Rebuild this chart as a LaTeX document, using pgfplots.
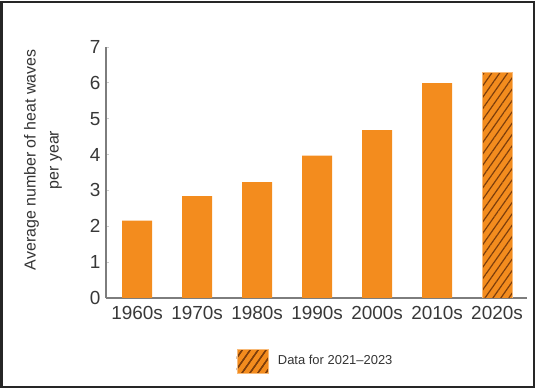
\documentclass[border=0pt]{standalone}
\usepackage{pgfplots}
\pgfplotsset{compat=1.18}
\usepackage{fontspec}
\setmainfont{Liberation Sans}
\usetikzlibrary{patterns.meta}
\definecolor{barorange}{RGB}{243,140,30}
\definecolor{hatchc}{RGB}{125,62,12}
\definecolor{axgray}{RGB}{125,125,125}
\begin{document}
\begin{tikzpicture}
\useasboundingbox (0bp,0bp) rectangle (540bp,390bp);
\draw[line width=2bp, black!85] (1.5bp,3bp) rectangle (534bp,387.5bp);
\begin{axis}[
  at={(106bp,92bp)}, anchor=south west,
  scale only axis, width=421bp, height=251bp,
  xmin=-0.52, xmax=6.5, ymin=0, ymax=7,
  axis lines=left,
  axis line style={axgray, line width=1.3bp, -},
  xtick={0,...,6},
  xticklabels={1960s,1970s,1980s,1990s,2000s,2010s,2020s},
  ytick={0,...,7},
  major tick length=3bp,
  tick align=inside,
  xtick style={draw=none},
  ytick style={black!20, line width=0.8bp},
  ticklabel style={font=\fontsize{19}{22}\selectfont, text=black!78},
  xticklabel style={yshift=-5bp},
  yticklabel style={xshift=-2bp},
  /pgf/number format/assume math mode=true,
  ylabel={Average number of heat waves\\per year},
  ylabel style={align=center, font=\fontsize{16}{23}\selectfont, text=black!80,
    at={(axis description cs:-0.1496,0.55)}, anchor=center},
  legend style={at={(axis description cs:0.4976,-0.251)}, anchor=center,
    draw=none, fill=none, font=\fontsize{13}{15}\selectfont, text=black!80},
  legend image code/.code={
    \fill[barorange] (0bp,-12bp) rectangle (31bp,12bp);
    \fill[pattern={Lines[angle=55,distance=6.5bp,line width=1.2bp]}, pattern color=hatchc] (0bp,-12bp) rectangle (31bp,12bp);
    \path (39bp,0bp);
  },
]
\addplot[ybar, bar width=30bp, bar shift=0pt, fill=barorange, draw=none, forget plot]
  coordinates {(0,2.16) (1,2.84) (2,3.23) (3,3.97) (4,4.68) (5,5.99)};
\addplot[ybar, bar width=30bp, bar shift=0pt, fill=barorange, draw=barorange!60!white,
  postaction={pattern={Lines[angle=55,distance=6.5bp,line width=1.2bp]}, pattern color=hatchc}]
  coordinates {(6,6.29)};
\addlegendentry{Data for 2021--2023}
\end{axis}
\end{tikzpicture}
\end{document}
